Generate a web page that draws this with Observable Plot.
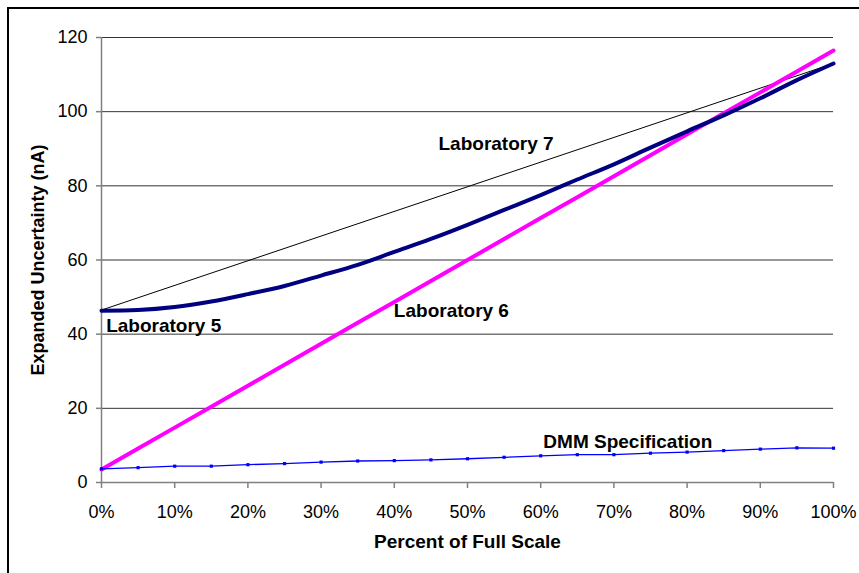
<!DOCTYPE html>
<html>
<head>
<meta charset="utf-8">
<script src="https://cdn.jsdelivr.net/npm/d3@7"></script>
<script src="https://cdn.jsdelivr.net/npm/@observablehq/plot@0.6"></script>
<style>
  body { margin: 0; background: #fff; }
  #wrap { position: relative; width: 859px; height: 573px; overflow: hidden; }
  #frame { position: absolute; left: 7px; top: 7px; width: 900px; height: 600px; border-left: 2px solid #000; border-top: 2px solid #000; pointer-events: none; }
  svg { font-family: "Liberation Sans", Arial, sans-serif; }
</style>
</head>
<body>
<div id="wrap"><div id="frame"></div></div>
<script>
const pct = [0,5,10,15,20,25,30,35,40,45,50,55,60,65,70,75,80,85,90,95,100];
const lab5 = [46.3,46.5,47.3,48.8,50.8,53.0,55.8,58.7,62.2,65.7,69.5,73.5,77.5,81.7,85.8,90.3,94.7,99.0,103.6,108.5,113.0];
const lab6 = [3.5,9.15,14.8,20.45,26.1,31.75,37.4,43.05,48.7,54.35,60.0,65.65,71.3,76.95,82.6,88.25,93.9,99.55,105.2,110.85,116.5];
const lab7x = [0,100];
const lab7 = [46.5,113.0];
const dmm = [3.7,4.0,4.4,4.4,4.8,5.1,5.5,5.8,5.9,6.1,6.4,6.8,7.2,7.5,7.5,7.9,8.2,8.6,9.0,9.35,9.25];
const yTicks = [0,20,40,60,80,100,120];
const xTicks = [0,10,20,30,40,50,60,70,80,90,100];
const labelText = ["Laboratory 7","Laboratory 5","Laboratory 6","DMM Specification"];
const labelX = [53.9,8.5,47.8,71.9];
const labelY = [91.3,42.3,46.4,11.0];

const s5 = pct.map((x,i)=>({x, y: lab5[i]}));
const s6 = pct.map((x,i)=>({x, y: lab6[i]}));
const s7 = lab7x.map((x,i)=>({x, y: lab7[i]}));
const sd = pct.map((x,i)=>({x, y: dmm[i]}));
const labels = labelText.map((t,i)=>({t, x: labelX[i], y: labelY[i]}));

const chart = Plot.plot({
  width: 859, height: 573,
  marginLeft: 101, marginRight: 26, marginTop: 37, marginBottom: 91,
  style: {fontFamily: '"Liberation Sans", Arial, sans-serif', fontSize: "18px", background: "transparent", color: "#000"},
  x: {domain: [0,100], ticks: xTicks, tickFormat: d => d + "%", label: null},
  y: {domain: [0,120], ticks: yTicks, label: null},
  marks: [
    Plot.ruleY(yTicks.filter(d => d > 0), {stroke: "#333", strokeWidth: 1}),
    Plot.ruleY([0], {stroke: "#808080", strokeWidth: 1.5}),
    Plot.ruleX([0], {stroke: "#808080", strokeWidth: 1.5}),
    Plot.axisX({ticks: xTicks, tickFormat: d => d + "%", tickSize: 6, tickPadding: 17, stroke: "#808080", strokeWidth: 1.5, fontSize: 18, label: null}),
    Plot.axisY({ticks: yTicks, tickSize: 5, tickPadding: 9, stroke: "#808080", strokeWidth: 1.5, fontSize: 18, label: null}),
    Plot.text(["Percent of Full Scale"], {frameAnchor: "bottom", dy: 65, fontWeight: "bold", fontSize: 19}),
    Plot.text(["Expanded Uncertainty (nA)"], {frameAnchor: "left", textAnchor: "middle", dx: -63, rotate: -90, fontWeight: "bold", fontSize: 18}),
    Plot.line(s7, {x: "x", y: "y", stroke: "#000", strokeWidth: 1}),
    Plot.line(s6, {x: "x", y: "y", stroke: "#ff00ff", strokeWidth: 4}),
    Plot.line(s5, {x: "x", y: "y", stroke: "#000080", strokeWidth: 4, curve: "monotone-x"}),
    Plot.line(sd, {x: "x", y: "y", stroke: "#0000ff", strokeWidth: 1.3}),
    Plot.dot(sd, {x: "x", y: "y", symbol: "square", r: 1.8, fill: "#0000ff", stroke: "none"}),
    Plot.text(labels, {x: "x", y: "y", text: "t", fontWeight: "bold", fontSize: 19, fill: "#000"})
  ]
});
document.getElementById("wrap").prepend(chart);
</script>
</body>
</html>
